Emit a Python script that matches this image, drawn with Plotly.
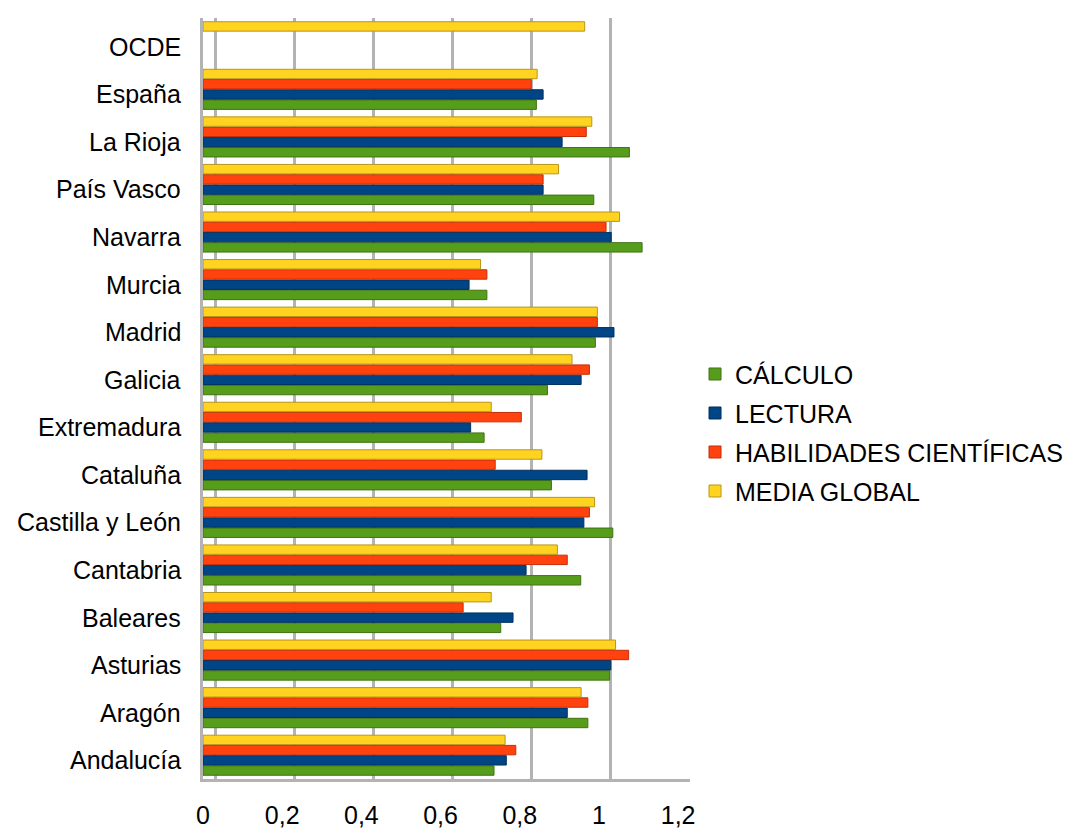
import plotly.graph_objects as go

categories = ["Andalucía", "Aragón", "Asturias", "Baleares", "Cantabria",
              "Castilla y León", "Cataluña", "Extremadura", "Galicia", "Madrid",
              "Murcia", "Navarra", "País Vasco", "La Rioja", "España", "OCDE"]

calculo = [0.735, 0.972, 1.027, 0.752, 0.954, 1.035, 0.880, 0.710, 0.870, 0.991,
           0.717, 1.109, 0.987, 1.077, 0.842, None]
lectura = [0.766, 0.920, 1.030, 0.783, 0.816, 0.962, 0.970, 0.676, 0.955, 1.038,
           0.672, 1.031, 0.859, 0.907, 0.859, None]
habilidades = [0.790, 0.972, 1.075, 0.657, 0.920, 0.976, 0.738, 0.804, 0.976, 0.996,
               0.717, 1.018, 0.859, 0.968, 0.829, None]
media_global = [0.763, 0.955, 1.042, 0.728, 0.895, 0.989, 0.856, 0.728, 0.932, 0.996,
                0.701, 1.052, 0.898, 0.982, 0.844, 0.964]

series = [
    ("CÁLCULO", calculo, "#579d1c", "#3f7313"),
    ("LECTURA", lectura, "#004586", "#00305e"),
    ("HABILIDADES CIENTÍFICAS", habilidades, "#ff420e", "#c2300a"),
    ("MEDIA GLOBAL", media_global, "#ffd320", "#b8961a"),
]

x_ticks = [0, 0.2, 0.4, 0.6, 0.8, 1.0, 1.2]
x_tick_text = ["0", "0,2", "0,4", "0,6", "0,8", "1", "1,2"]

fig = go.Figure()
for name, vals, col, edge in series:
    fig.add_trace(go.Bar(
        y=categories, x=vals, name=name, orientation="h",
        marker=dict(color=col, line=dict(color=edge, width=1)),
        legendgroup=name,
    ))

# invisible helper trace for the back-wall grid axis
fig.add_trace(go.Scatter(x=[None], y=[None], xaxis="x2", showlegend=False,
                         hoverinfo="skip"))

font = "Liberation Sans, Arial, sans-serif"
fs = 25

# category labels (set slightly below the bar groups, as in the 3D original)
for cat in categories:
    fig.add_annotation(x=0, xref="paper", y=cat, yref="y", text=cat,
                       showarrow=False, xanchor="right", yanchor="middle",
                       xshift=-20, yshift=-5,
                       font=dict(size=fs, color="#000000", family=font))

fig.update_layout(
    width=1069, height=830,
    paper_bgcolor="white", plot_bgcolor="white",
    barmode="group", bargap=0.14, bargroupgap=0.08,
    margin=dict(l=203, r=379, t=18, b=51, autoexpand=False),
    font=dict(family=font, size=fs, color="#000000"),
    legend=dict(x=1.0103, xanchor="left", xref="paper", y=0.455, yanchor="middle",
                traceorder="grouped", tracegroupgap=3.5,
                font=dict(size=fs, color="#000000"), itemwidth=30),
    xaxis=dict(range=[0, 1.23], tickvals=x_ticks, ticktext=x_tick_text,
               showgrid=False, zeroline=False, showline=True, linecolor="#b3b3b3",
               linewidth=3, ticks="", ticklabelstandoff=12, automargin=False,
               tickfont=dict(size=fs, color="#000000")),
    xaxis2=dict(range=[-0.031, 1.2], overlaying="x", anchor="y", side="bottom",
                showgrid=True, gridcolor="#b3b3b3", gridwidth=3, dtick=0.2,
                tick0=0, showticklabels=False, zeroline=False, ticks="",
                automargin=False),
    yaxis=dict(showgrid=False, zeroline=False, showline=True, linecolor="#b3b3b3",
               linewidth=3, ticks="", showticklabels=False, automargin=False),
)

fig.write_html("out.html", config={"displayModeBar": False},
               post_script="document.body.style.margin='0';"
                           "document.body.style.padding='0';")
